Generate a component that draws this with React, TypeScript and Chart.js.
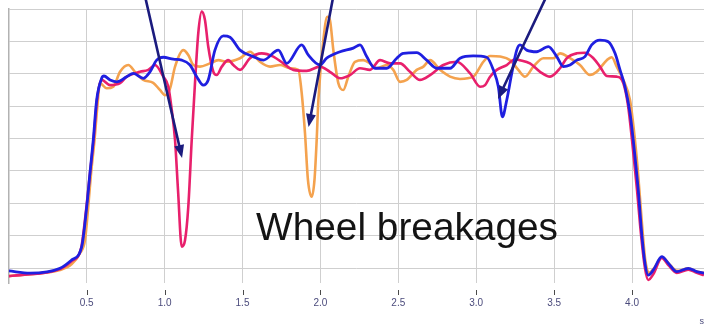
import React, { useEffect, useRef } from "react";
import { Chart, registerables } from "chart.js";

Chart.register(...registerables);

// ---- Data (time in s, signal in grid units) ----
const X_TICKS = [0.5, 1.0, 1.5, 2.0, 2.5, 3.0, 3.5, 4.0];
const Y_GRID = [0, 1, 2, 3, 4, 5, 6, 7, 8];
const X_UNIT = "s";

const BLUE_X = [0, 0.136, 0.329, 0.404, 0.468, 0.5, 0.521, 0.542, 0.564, 0.596, 0.611, 0.65, 0.693, 0.757, 0.799, 0.863, 0.906, 0.949, 0.992, 1.056, 1.11, 1.163, 1.206, 1.248, 1.28, 1.323, 1.377, 1.42, 1.484, 1.569, 1.634, 1.73, 1.784, 1.88, 1.922, 1.997, 2.04, 2.126, 2.211, 2.254, 2.297, 2.35, 2.426, 2.49, 2.532, 2.618, 2.682, 2.746, 2.832, 2.896, 2.981, 3.067, 3.11, 3.142, 3.168, 3.196, 3.228, 3.26, 3.281, 3.324, 3.388, 3.463, 3.517, 3.559, 3.602, 3.645, 3.698, 3.741, 3.794, 3.848, 3.891, 3.923, 3.955, 3.987, 4.008, 4.019, 4.04, 4.062, 4.083, 4.104, 4.137, 4.191, 4.233, 4.287, 4.361, 4.415, 4.462];
const BLUE_Y = [-0.09, -0.16, -0.01, 0.25, 0.66, 1.89, 2.93, 3.95, 5.19, 5.86, 5.93, 5.81, 5.75, 5.91, 6.01, 5.86, 6.06, 6.42, 6.51, 6.45, 6.42, 6.27, 5.91, 5.65, 5.81, 6.73, 7.17, 7.13, 6.73, 6.53, 6.42, 6.73, 6.32, 6.89, 6.58, 6.27, 6.48, 6.68, 6.79, 6.89, 6.53, 6.17, 6.17, 6.48, 6.63, 6.65, 6.42, 6.17, 6.17, 6.48, 6.55, 6.51, 6.12, 5.6, 4.67, 5.19, 6.01, 6.73, 6.89, 6.73, 6.68, 6.84, 6.53, 6.22, 6.27, 6.42, 6.53, 6.89, 7.04, 6.99, 6.63, 6.12, 5.6, 4.79, 3.95, 3.44, 2.41, 1.08, 0.15, -0.22, -0.06, 0.35, 0.15, -0.11, -0.01, -0.11, -0.16];

const RED_X = [0, 0.072, 0.329, 0.406, 0.463, 0.496, 0.521, 0.544, 0.566, 0.596, 0.65, 0.714, 0.757, 0.842, 0.895, 0.938, 0.992, 1.024, 1.046, 1.067, 1.086, 1.11, 1.131, 1.152, 1.174, 1.195, 1.216, 1.238, 1.259, 1.28, 1.313, 1.334, 1.367, 1.409, 1.441, 1.484, 1.548, 1.623, 1.698, 1.762, 1.826, 1.912, 1.997, 2.061, 2.126, 2.19, 2.254, 2.318, 2.383, 2.447, 2.511, 2.575, 2.639, 2.704, 2.789, 2.875, 2.961, 3.025, 3.057, 3.089, 3.132, 3.196, 3.249, 3.281, 3.345, 3.41, 3.474, 3.538, 3.581, 3.645, 3.698, 3.752, 3.794, 3.838, 3.902, 3.944, 3.974, 4.0, 4.032, 4.058, 4.083, 4.104, 4.137, 4.191, 4.233, 4.287, 4.361, 4.415, 4.462];
const RED_Y = [-0.25, -0.22, -0.03, 0.22, 0.59, 1.79, 2.93, 3.95, 5.19, 5.81, 5.65, 5.71, 5.91, 6.06, 6.12, 6.27, 5.91, 5.6, 4.88, 3.95, 2.41, 0.66, 0.86, 1.89, 3.95, 5.71, 7.25, 7.92, 7.66, 6.84, 6.06, 5.96, 6.22, 6.42, 6.27, 6.12, 6.48, 6.63, 6.53, 6.32, 6.12, 6.09, 6.22, 6.06, 5.86, 5.96, 6.17, 6.12, 6.42, 6.32, 6.32, 6.06, 5.81, 5.96, 6.27, 6.37, 6.01, 5.6, 5.65, 5.91, 6.12, 6.27, 6.45, 6.42, 6.32, 6.06, 5.91, 6.17, 6.48, 6.63, 6.65, 6.48, 6.22, 5.93, 5.91, 5.71, 5.03, 3.95, 2.41, 1.02, 0.0, -0.37, -0.19, 0.31, 0.09, -0.15, -0.05, -0.15, -0.22];

const ORANGE_X = [0, 0.136, 0.329, 0.404, 0.457, 0.489, 0.508, 0.528, 0.55, 0.569, 0.585, 0.628, 0.671, 0.714, 0.767, 0.81, 0.863, 0.927, 0.97, 1.003, 1.035, 1.067, 1.12, 1.152, 1.184, 1.227, 1.291, 1.345, 1.399, 1.484, 1.548, 1.612, 1.677, 1.741, 1.805, 1.858, 1.88, 1.901, 1.92, 1.944, 1.962, 1.976, 1.987, 2.019, 2.044, 2.061, 2.083, 2.115, 2.147, 2.179, 2.222, 2.275, 2.318, 2.361, 2.426, 2.468, 2.511, 2.554, 2.618, 2.661, 2.704, 2.768, 2.832, 2.896, 2.981, 3.046, 3.089, 3.153, 3.217, 3.27, 3.313, 3.367, 3.431, 3.495, 3.538, 3.602, 3.666, 3.73, 3.773, 3.838, 3.87, 3.902, 3.944, 3.987, 4.012, 4.037, 4.062, 4.085, 4.108, 4.142, 4.194, 4.239, 4.292, 4.361, 4.415, 4.462];
const ORANGE_Y = [-0.25, -0.19, -0.06, 0.12, 0.46, 0.86, 1.79, 2.93, 3.95, 5.03, 5.71, 5.55, 5.6, 6.06, 6.27, 6.06, 5.81, 5.72, 5.5, 5.34, 5.55, 6.22, 6.73, 6.58, 6.27, 6.22, 6.32, 6.42, 6.37, 6.48, 6.68, 6.37, 6.22, 6.27, 6.17, 6.12, 5.4, 4.17, 2.72, 2.2, 2.72, 3.95, 5.19, 7.04, 7.76, 7.66, 6.73, 5.71, 5.5, 5.91, 6.37, 6.42, 6.32, 6.17, 6.27, 6.12, 5.75, 5.81, 6.12, 6.22, 6.42, 6.12, 5.91, 5.84, 5.91, 6.37, 6.55, 6.53, 6.42, 6.12, 5.91, 6.22, 6.48, 6.48, 6.63, 6.48, 6.27, 5.96, 6.06, 6.42, 6.51, 6.22, 5.81, 5.19, 4.26, 3.03, 1.48, 0.25, -0.15, 0.0, 0.34, 0.12, -0.09, -0.01, -0.11, -0.15];

// ---- Annotation (in data coordinates) ----
const NOTE_TEXT = "Wheel breakages";
const NOTE_AT = { x: 1.587, y: 0.865 };
const ARROWS = [
  { from: { x: 0.874, y: 8.4 }, to: { x: 1.112, y: 3.4 } },
  { from: { x: 2.083, y: 8.4 }, to: { x: 1.924, y: 4.355 } },
  { from: { x: 3.452, y: 8.4 }, to: { x: 3.14, y: 5.22 } },
];

const zip = (xs: number[], ys: number[]) =>
  xs.slice(0, Math.min(xs.length, ys.length)).map((x, i) => ({ x, y: ys[i] }));

const annotationPlugin = {
  id: "wheelNotes",
  afterDatasetsDraw(chart: any) {
    const { ctx, scales, chartArea } = chart;
    const xs = scales.x;
    const ys = scales.y;
    ctx.save();
    // detached x tick marks below the plot
    ctx.strokeStyle = "#4a4a4a";
    ctx.lineWidth = 1;
    xs.ticks.forEach((t: any) => {
      const px = Math.round(xs.getPixelForValue(t.value)) + 0.5;
      ctx.beginPath();
      ctx.moveTo(px, chartArea.bottom + 7);
      ctx.lineTo(px, chartArea.bottom + 12);
      ctx.stroke();
    });
    // arrows
    ctx.strokeStyle = "#1b1b7e";
    ctx.fillStyle = "#1b1b7e";
    ctx.lineWidth = 2.6;
    ctx.lineCap = "round";
    ARROWS.forEach((a) => {
      const x0 = xs.getPixelForValue(a.from.x);
      const y0 = ys.getPixelForValue(a.from.y);
      const x1 = xs.getPixelForValue(a.to.x);
      const y1 = ys.getPixelForValue(a.to.y);
      const ang = Math.atan2(y1 - y0, x1 - x0);
      const head = 13;
      const half = 5;
      const bx = x1 - head * Math.cos(ang);
      const by = y1 - head * Math.sin(ang);
      ctx.beginPath();
      ctx.moveTo(x0, y0);
      ctx.lineTo(bx + 2 * Math.cos(ang), by + 2 * Math.sin(ang));
      ctx.stroke();
      ctx.beginPath();
      ctx.moveTo(x1, y1);
      ctx.lineTo(bx + half * Math.sin(ang), by - half * Math.cos(ang));
      ctx.lineTo(bx - half * Math.sin(ang), by + half * Math.cos(ang));
      ctx.closePath();
      ctx.fill();
    });
    // label
    ctx.font = '38.8px "Liberation Sans", Arial, sans-serif';
    ctx.fillStyle = "#141414";
    ctx.textBaseline = "alphabetic";
    ctx.textAlign = "left";
    ctx.fillText(NOTE_TEXT, xs.getPixelForValue(NOTE_AT.x), ys.getPixelForValue(NOTE_AT.y));
    ctx.restore();
  },
};

export default function App() {
  const ref = useRef<HTMLCanvasElement | null>(null);

  useEffect(() => {
    if (!ref.current) return;
    const chart = new Chart(ref.current, {
      type: "line",
      data: {
        datasets: [
          {
            label: "Blue",
            data: zip(BLUE_X, BLUE_Y),
            borderColor: "#1f1fe0",
            borderWidth: 2.8,
            pointRadius: 0,
            cubicInterpolationMode: "monotone",
          },
          {
            label: "Red",
            data: zip(RED_X, RED_Y),
            borderColor: "#e8206c",
            borderWidth: 2.6,
            pointRadius: 0,
            cubicInterpolationMode: "monotone",
          },
          {
            label: "Orange",
            data: zip(ORANGE_X, ORANGE_Y),
            borderColor: "#f4a24e",
            borderWidth: 2.6,
            pointRadius: 0,
            cubicInterpolationMode: "monotone",
          },
        ],
      },
      options: {
        responsive: false,
        animation: false,
        events: [],
        layout: { padding: { left: 8.8, top: 9, right: 0, bottom: 0 } },
        plugins: { legend: { display: false }, tooltip: { enabled: false } },
        scales: {
          x: {
            type: "linear",
            min: 0,
            max: 4.462,
            afterBuildTicks: (axis: any) => {
              axis.ticks = X_TICKS.map((v) => ({ value: v }));
            },
            afterFit: (axis: any) => {
              axis.height = 41;
            },
            border: { display: false },
            grid: {
              color: "#cfcfcf",
              lineWidth: 1,
              drawTicks: true,
              tickLength: 12,
              tickColor: "rgba(0,0,0,0)",
            },
            ticks: {
              autoSkip: false,
              maxRotation: 0,
              padding: 2,
              color: "#4b4b7c",
              font: { family: '"Liberation Sans", Arial, sans-serif', size: 10 },
              callback: (v: any) => Number(v).toFixed(1),
            },
            title: {
              display: true,
              text: X_UNIT,
              align: "end",
              color: "#4b4b7c",
              font: { family: '"Liberation Sans", Arial, sans-serif', size: 9 },
              padding: { top: 0, bottom: -3 },
            },
          },
          y: {
            type: "linear",
            min: -0.463,
            max: 8,
            afterBuildTicks: (axis: any) => {
              axis.ticks = Y_GRID.map((v) => ({ value: v }));
            },
            afterFit: (axis: any) => {
              axis.width = 0;
            },
            border: { display: true, color: "#b2b2b2", width: 1.5 },
            grid: { color: "#cfcfcf", lineWidth: 1, drawTicks: false },
            ticks: { display: false },
          },
        },
      },
      plugins: [annotationPlugin],
    });
    return () => chart.destroy();
  }, []);

  return (
    <div style={{ position: "fixed", left: 0, top: 0, width: 704, height: 324, background: "#fff" }}>
      <canvas ref={ref} width={704} height={324} style={{ width: 704, height: 324, display: "block" }} />
    </div>
  );
}
